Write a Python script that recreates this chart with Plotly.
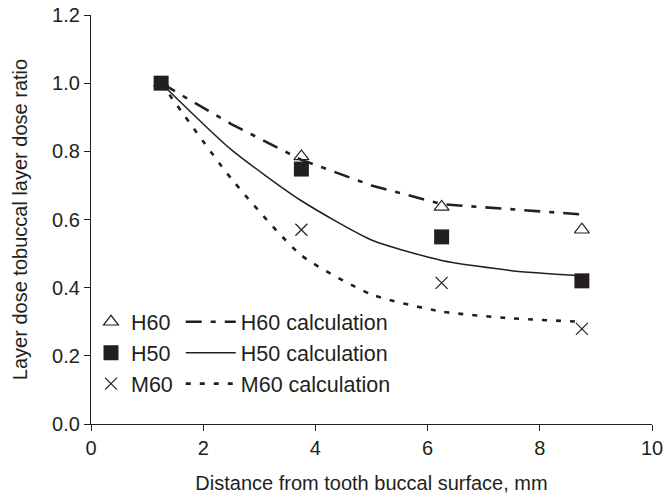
import plotly.graph_objects as go

# Measured points
x_meas = [1.25, 3.75, 6.25, 8.75]
h60 = [1.0, 0.785, 0.637, 0.57]
h50 = [1.0, 0.748, 0.549, 0.42]
m60 = [1.0, 0.57, 0.414, 0.279]

# Calculation curves
x_calc = [1.25, 2.5, 3.75, 5.0, 6.25, 7.5, 8.75]
h60_calc = [1.0, 0.88, 0.775, 0.70, 0.645, 0.63, 0.615]
h50_calc = [1.0, 0.805, 0.655, 0.54, 0.48, 0.45, 0.435]
m60_calc = [1.0, 0.72, 0.495, 0.38, 0.33, 0.31, 0.30]

x_ticks = [0, 2, 4, 6, 8, 10]
y_ticks = [0.0, 0.2, 0.4, 0.6, 0.8, 1.0, 1.2]

INK = "#231f20"
FONT = "Arial, Liberation Sans, sans-serif"

fig = go.Figure()

fig.add_trace(go.Scatter(x=x_calc, y=h60_calc, mode="lines", name="H60 calculation",
                         line=dict(color=INK, width=2.6, dash="16px,9px,5px,9px"),
                         legend="legend2"))
fig.add_trace(go.Scatter(x=x_calc, y=h50_calc, mode="lines", name="H50 calculation",
                         line=dict(color=INK, width=1.5, shape="spline", smoothing=0.6),
                         legend="legend2"))
fig.add_trace(go.Scatter(x=x_calc, y=m60_calc, mode="lines", name="M60 calculation",
                         line=dict(color=INK, width=2.6, dash="5px,9px", shape="spline", smoothing=0.6),
                         legend="legend2"))

fig.add_trace(go.Scatter(x=x_meas, y=h60, mode="markers", name="H60",
                         marker=dict(symbol="triangle-up-open", size=13, color=INK,
                                     line=dict(width=1.2, color=INK)),
                         legend="legend"))
fig.add_trace(go.Scatter(x=x_meas, y=h50, mode="markers", name="H50",
                         marker=dict(symbol="square", size=15, color=INK),
                         legend="legend"))
fig.add_trace(go.Scatter(x=x_meas, y=m60, mode="markers", name="M60",
                         marker=dict(symbol="x-thin-open", size=12, color=INK,
                                     line=dict(width=1.2, color=INK)),
                         legend="legend"))

axis_common = dict(showline=True, linecolor=INK, linewidth=1.2, ticks="outside",
                   ticklen=6, tickcolor=INK, tickwidth=1.2, showgrid=False, zeroline=False,
                   ticklabeloverflow="allow", automargin=False,
                   tickfont=dict(family=FONT, size=20, color=INK))

fig.update_layout(
    width=665, height=498,
    margin=dict(l=91, r=13, t=15, b=74),
    paper_bgcolor="white", plot_bgcolor="white",
    font=dict(family=FONT, size=20, color=INK),
    xaxis=dict(range=[0, 10], tickvals=x_ticks, ticktext=[str(v) for v in x_ticks],
               title=dict(text="Distance from tooth buccal surface, mm", standoff=17,
                          font=dict(family=FONT, size=20, color=INK)),
               **axis_common),
    yaxis=dict(range=[0, 1.2], tickvals=y_ticks, ticktext=[f"{v:.1f}" for v in y_ticks],
               title=dict(text="Layer dose tobuccal layer dose ratio", standoff=19,
                          font=dict(family=FONT, size=20, color=INK)),
               **axis_common),
    legend=dict(x=0.0, y=0.30, xanchor="left", yanchor="top", bgcolor="rgba(0,0,0,0)",
                font=dict(family=FONT, size=21.5, color=INK), tracegroupgap=0,
                itemwidth=30),
    legend2=dict(x=0.16, y=0.30, xanchor="left", yanchor="top", bgcolor="rgba(0,0,0,0)",
                 font=dict(family=FONT, size=21.5, color=INK), itemwidth=50),
    showlegend=True,
)

fig.write_html("out.html")
